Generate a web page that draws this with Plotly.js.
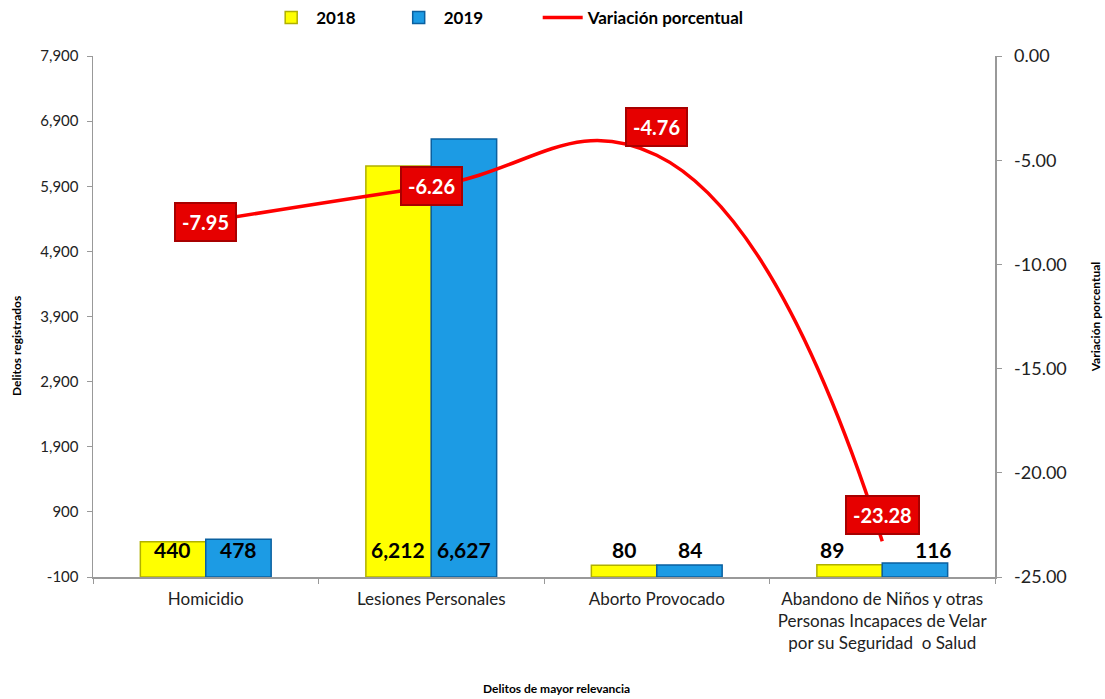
<!DOCTYPE html>
<html>
<head>
<meta charset="utf-8">
<script src="https://cdn.plot.ly/plotly-3.0.1.min.js"></script>
<style>html,body{margin:0;padding:0;background:#fff;}#chart{width:1105px;height:699px;}</style>
</head>
<body>
<div id="chart"></div>
<script>
const categories = ["Homicidio", "Lesiones Personales", "Aborto Provocado", "Abandono de Niños y otras<br>Personas Incapaces de Velar<br>por su Seguridad  o Salud"];
const values2018 = [440, 6212, 80, 89];
const values2019 = [478, 6627, 84, 116];
const variacion = [-7.95, -6.26, -4.76, -23.28];
const leftTicks = [-100, 900, 1900, 2900, 3900, 4900, 5900, 6900, 7900];
const rightTicks = [0, -5, -10, -15, -20, -25];
const seriesNames = ['2018', '2019', 'Variación porcentual'];

const FONT = "Lato, 'Open Sans', sans-serif";
const axisBase = -100;
const NB = '\u00a0';

const fmt = v => v.toLocaleString('en-US');

const traces = [
  {
    type: 'bar', name: seriesNames[0] + NB.repeat(8), x: categories,
    y: values2018.map(v => v - axisBase), base: axisBase,
    marker: {color: '#FFFF00', line: {color: '#B0B000', width: 1.5}},
    hoverinfo: 'skip'
  },
  {
    type: 'bar', name: seriesNames[1] + NB.repeat(12), x: categories,
    y: values2019.map(v => v - axisBase), base: axisBase,
    marker: {color: '#1C9BE4', line: {color: '#0A60A0', width: 1.5}},
    hoverinfo: 'skip'
  },
  {
    type: 'scatter', mode: 'lines', name: seriesNames[2], x: categories, y: variacion,
    yaxis: 'y2', line: {color: '#FF0000', width: 3.5, shape: 'spline', smoothing: 1.3},
    hoverinfo: 'skip'
  }
];

const annotations = [];
const labelLevel = 320;
const shift2018 = [-33, -33, -33, -50];
const shift2019 = [33, 33, 33, 51];
categories.forEach((c, i) => {
  annotations.push({x: c, y: labelLevel, xref: 'x', yref: 'y', xshift: shift2018[i], text: '<b>' + fmt(values2018[i]) + '</b>',
    showarrow: false, font: {family: FONT, size: 21, color: '#000'}});
  annotations.push({x: c, y: labelLevel, xref: 'x', yref: 'y', xshift: shift2019[i], text: '<b>' + fmt(values2019[i]) + '</b>',
    showarrow: false, font: {family: FONT, size: 21, color: '#000'}});
});
const varShift = [0, 0, 28, 26];
categories.forEach((c, i) => {
  annotations.push({x: c, y: variacion[i], xref: 'x', yref: 'y2', yshift: varShift[i],
    text: '<b>' + variacion[i].toFixed(2) + '</b>', showarrow: false,
    font: {family: FONT, size: 20, color: '#fff'},
    bgcolor: '#E60000', bordercolor: '#A80000', borderwidth: 2, borderpad: 6});
});
annotations.push({x: 0.5, y: 0, xref: 'paper', yref: 'paper', yshift: -121, xshift: 12, text: '<b>Delitos de mayor relevancia</b>',
  showarrow: false, font: {family: FONT, size: 12, color: '#000'}});
annotations.push({x: 0, y: 0.5, xref: 'paper', yref: 'paper', xshift: -86, yshift: -30, textangle: -90,
  text: '<b>Delitos registrados</b>', showarrow: false, font: {family: FONT, size: 12, color: '#000'}});

const layout = {
  width: 1105, height: 699,
  margin: {l: 93, r: 110, t: 56, b: 122},
  paper_bgcolor: '#fff', plot_bgcolor: '#fff',
  font: {family: FONT, color: '#222'},
  barmode: 'group', bargap: 0.42, bargroupgap: 0,
  showlegend: true,
  legend: {orientation: 'h', x: 0.192, xanchor: 'left', y: 1.0, yref: 'container', yanchor: 'top',
    font: {family: FONT, size: 17, color: '#000', weight: 'bold'}, traceorder: 'normal', itemwidth: 40},
  xaxis: {
    type: 'category', showline: true, linecolor: '#999', linewidth: 1.5,
    ticks: 'outside', tickson: 'boundaries', ticklen: 5, tickcolor: '#999', ticklabelstandoff: 6,
    tickfont: {family: FONT, size: 17, color: '#222'}, showgrid: false, zeroline: false
  },
  yaxis: {
    range: [-100, 7900], tickvals: leftTicks, ticktext: leftTicks.map(fmt),
    showline: true, linecolor: '#999', linewidth: 1.5, ticks: 'outside', ticklen: 5, tickcolor: '#999', ticklabelstandoff: 5,
    tickfont: {family: FONT, size: 15, color: '#222'}, showgrid: false, zeroline: false
  },
  yaxis2: {
    overlaying: 'y', side: 'right', range: [-25, 0], tickvals: rightTicks, ticktext: rightTicks.map(v => v.toFixed(2)),
    showline: true, linecolor: '#999', linewidth: 1.5, ticks: 'outside', ticklen: 5, tickcolor: '#999', ticklabelstandoff: 9,
    tickfont: {family: FONT, size: 18, color: '#222'}, showgrid: false, zeroline: false,
    title: {text: '<b>Variación porcentual</b>', font: {family: FONT, size: 12, color: '#000'}, standoff: 26}
  },
  annotations: annotations
};

Plotly.newPlot('chart', traces, layout, {displayModeBar: false, staticPlot: true});
</script>
</body>
</html>
